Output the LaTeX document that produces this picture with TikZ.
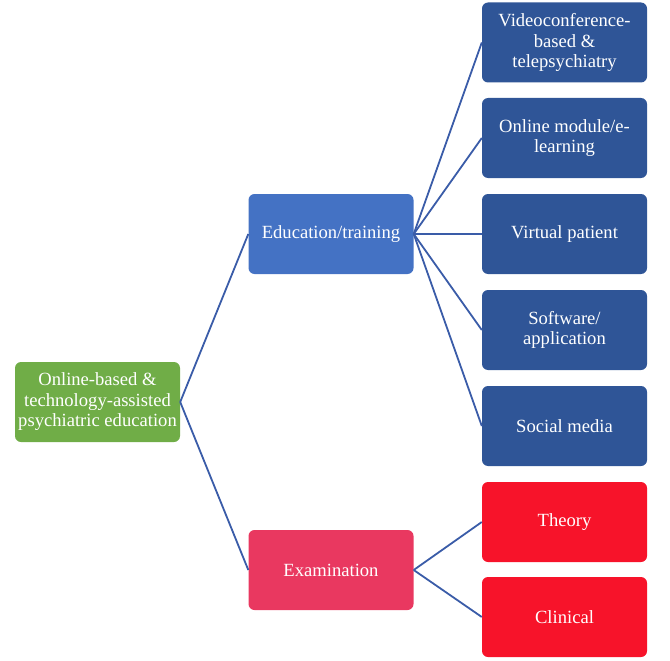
\documentclass[tikz,border=0pt]{standalone}
\usepackage{fontspec}
\setmainfont{Liberation Serif}
\usepackage{tikz}
\definecolor{rootgreen}{RGB}{112,173,71}
\definecolor{midblue}{RGB}{68,114,196}
\definecolor{darkblue}{RGB}{47,85,151}
\definecolor{exampink}{RGB}{233,56,96}
\definecolor{leafred}{RGB}{247,19,42}
\definecolor{linkblue}{RGB}{58,92,168}

\begin{document}
\begin{tikzpicture}[x=1pt,y=1pt]
\tikzstyle{box}=[rectangle,rounded corners=6pt,minimum width=165pt,minimum height=80pt,
  inner sep=2pt,align=center,text=white,font=\fontsize{18.6}{20.5}\selectfont]
\tikzstyle{link}=[linkblue,line width=1.8pt]
\useasboundingbox (0,0) rectangle (670,-661);
\node [box,fill=rootgreen] (root) at (97.5,-402) {Online-based \&\\technology-assisted\\psychiatric education};
\node [box,fill=midblue] (edu) at (331,-234) {Education/training};
\node [box,fill=exampink] (exam) at (331,-570) {Examination};
\node [box,fill=darkblue] (video) at (564.5,-42.5) {Videoconference-\\based \&\\telepsychiatry};
\node [box,fill=darkblue] (module) at (564.5,-138) {Online module/e-\\learning};
\node [box,fill=darkblue] (virtual) at (564.5,-234) {Virtual patient};
\node [box,fill=darkblue] (software) at (564.5,-330) {Software/\\application};
\node [box,fill=darkblue] (social) at (564.5,-426) {Social media};
\node [box,fill=leafred] (theory) at (564.5,-522) {Theory};
\node [box,fill=leafred] (clinical) at (564.5,-617) {Clinical};
\draw [link] (root.east) -- (edu.west);
\draw [link] (root.east) -- (exam.west);
\draw [link] (edu.east) -- (video.west);
\draw [link] (edu.east) -- (module.west);
\draw [link] (edu.east) -- (virtual.west);
\draw [link] (edu.east) -- (software.west);
\draw [link] (edu.east) -- (social.west);
\draw [link] (exam.east) -- (theory.west);
\draw [link] (exam.east) -- (clinical.west);
\end{tikzpicture}
\end{document}
